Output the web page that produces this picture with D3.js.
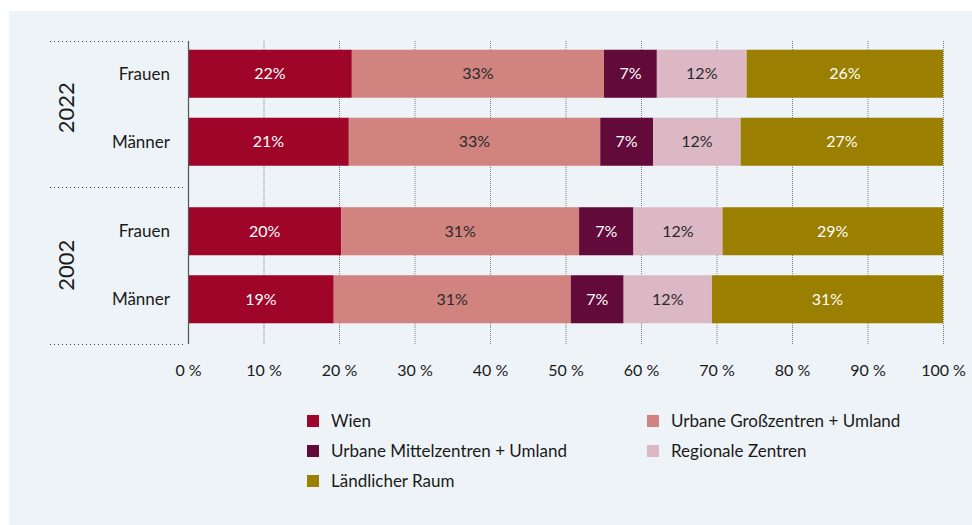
<!DOCTYPE html>
<html>
<head>
<meta charset="utf-8">
<script src="https://cdn.jsdelivr.net/npm/d3@7"></script>
<style>
  body { margin: 0; background: #fff; }
  svg { display: block; font-family: Lato, "Open Sans", sans-serif; }
</style>
</head>
<body>
<div id="chart"></div>
<script>
// data (shares in %)
var years = ["2022", "2002"];
var genders = ["Frauen", "Männer"];
var regions = ["Wien", "Urbane Großzentren + Umland", "Urbane Mittelzentren + Umland", "Regionale Zentren", "Ländlicher Raum"];
var regionColors = ["#9e0529", "#d0837f", "#620a3a", "#dcb8c5", "#9a7f00"];
var labelColors = ["#fff", "#2a2a2a", "#fff", "#2a2a2a", "#fff"];
var wien      = [21.7, 21.3, 20.3, 19.3];
var grossz    = [33.4, 33.3, 31.5, 31.4];
var mittelz   = [7.0, 7.0, 7.2, 7.0];
var regional  = [11.9, 11.6, 11.8, 11.7];
var laendlich = [26.0, 26.8, 29.2, 30.6];
var shownLabels = [
  ["22%", "33%", "7%", "12%", "26%"],
  ["21%", "33%", "7%", "12%", "27%"],
  ["20%", "31%", "7%", "12%", "29%"],
  ["19%", "31%", "7%", "12%", "31%"]
];
var tickValues = [0, 10, 20, 30, 40, 50, 60, 70, 80, 90, 100];

var width = 972, height = 525;

var rows = [];
years.forEach(function(y, i) {
  genders.forEach(function(g, j) {
    var k = i * 2 + j;
    rows.push({ key: y + "|" + g, year: y, gender: g,
      values: [wien[k], grossz[k], mittelz[k], regional[k], laendlich[k]],
      labels: shownLabels[k] });
  });
});

var svg = d3.select("#chart").append("svg")
  .attr("width", width).attr("height", height);

svg.append("rect")
  .attr("x", 9).attr("y", 11)
  .attr("width", width - 9).attr("height", height - 11)
  .attr("fill", "#eef3f7");

var x = d3.scaleLinear().domain([0, 100]).range([188, 943]);
var plotTop = 41, plotBottom = 344;

// two groups, each split into two bars
var yGroup = d3.scaleBand().domain(years).range([29, plotBottom]).paddingInner(0).paddingOuter(0);
var yBar = d3.scaleBand().domain(genders).range([0, yGroup.bandwidth()]).paddingInner(0.294).paddingOuter(0.305);

// gridlines
svg.append("g")
  .selectAll("line")
  .data(tickValues.slice(1))
  .join("line")
  .attr("x1", d => x(d) + 0.5).attr("x2", d => x(d) + 0.5)
  .attr("y1", plotTop).attr("y2", plotBottom)
  .attr("stroke", "#7a7a7a")
  .attr("stroke-width", 1)
  .attr("stroke-dasharray", "1,1");

// group separators on the left
svg.append("g")
  .selectAll("line")
  .data([plotTop, yGroup("2002"), plotBottom])
  .join("line")
  .attr("x1", 50).attr("x2", 186)
  .attr("y1", d => Math.round(d) + 0.5).attr("y2", d => Math.round(d) + 0.5)
  .attr("stroke", "#444")
  .attr("stroke-width", 1)
  .attr("stroke-dasharray", "1,3");

// stacked bars
rows.forEach(function(r) {
  var y0 = yGroup(r.year) + yBar(r.gender);
  var acc = 0;
  var g = svg.append("g");
  r.values.forEach(function(v, i) {
    var start = acc;
    acc += v;
    g.append("rect")
      .attr("x", x(start)).attr("y", y0)
      .attr("width", x(acc) - x(start))
      .attr("height", yBar.bandwidth())
      .attr("fill", regionColors[i]);
    g.append("text")
      .attr("x", (x(start) + x(acc)) / 2)
      .attr("y", y0 + yBar.bandwidth() / 2)
      .attr("dy", "0.35em")
      .attr("text-anchor", "middle")
      .attr("fill", labelColors[i])
      .style("font-size", "16px")
      .text(r.labels[i]);
  });
  svg.append("text")
    .attr("x", 170)
    .attr("y", y0 + yBar.bandwidth() / 2)
    .attr("dy", "0.35em")
    .attr("text-anchor", "end")
    .attr("fill", "#1a1a1a")
    .style("font-size", "17px")
    .text(r.gender);
});

// year labels
years.forEach(function(yr) {
  var cy = yGroup(yr) + yBar("Frauen") + (yBar("Männer") + yBar.bandwidth() - yBar("Frauen")) / 2;
  svg.append("text")
    .attr("transform", "translate(66," + cy + ") rotate(-90)")
    .attr("text-anchor", "middle")
    .attr("dy", "0.35em")
    .attr("fill", "#1a1a1a")
    .style("font-size", "22px")
    .text(yr);
});

// y axis line
svg.append("line")
  .attr("x1", 188.5).attr("x2", 188.5)
  .attr("y1", plotTop).attr("y2", plotBottom)
  .attr("stroke", "#555").attr("stroke-width", 1.2);

// x axis
var xAxis = svg.append("g")
  .attr("transform", "translate(0," + plotBottom + ")")
  .call(d3.axisBottom(x).tickValues(tickValues).tickSize(0).tickPadding(21)
    .tickFormat(d => d + " %"));
xAxis.select(".domain").remove();
xAxis.selectAll("text")
  .attr("fill", "#1a1a1a")
  .style("font-size", "16px")
  .style("font-family", "Lato, sans-serif");

// legend
var legendPos = [[307, 421], [647, 421], [307, 451], [647, 451], [307, 481]];
var legend = svg.append("g")
  .selectAll("g")
  .data(regions)
  .join("g")
  .attr("transform", (d, i) => "translate(" + legendPos[i][0] + "," + legendPos[i][1] + ")");
legend.append("rect")
  .attr("x", 0).attr("y", -6)
  .attr("width", 12).attr("height", 12)
  .attr("fill", (d, i) => regionColors[i]);
legend.append("text")
  .attr("x", 24)
  .attr("dy", "0.35em")
  .attr("fill", "#1a1a1a")
  .style("font-size", "17px")
  .text(d => d);
</script>
</body>
</html>
